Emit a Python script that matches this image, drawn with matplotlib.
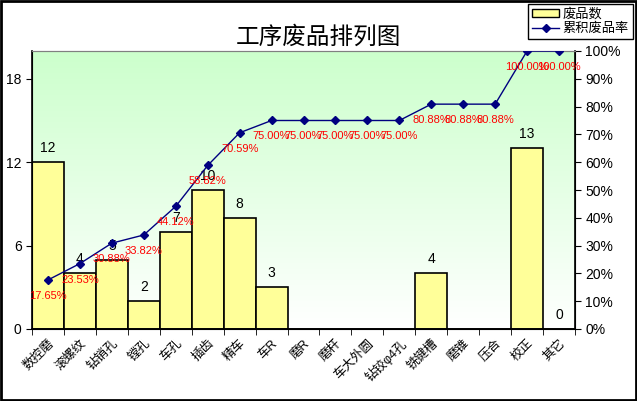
import numpy as np
import matplotlib
matplotlib.use("Agg")
import matplotlib.pyplot as plt
from matplotlib.patches import Rectangle, Patch
from matplotlib.lines import Line2D
from matplotlib.ticker import FixedLocator, PercentFormatter

plt.rcParams['font.family'] = ['Liberation Sans', 'Noto Sans CJK SC', 'DejaVu Sans']

categories = ["数控磨", "滚螺纹", "钻销孔", "镗孔", "车孔", "插齿", "精车", "车R", "磨R",
              "磨杆", "车大外圆", "钻铰φ4孔", "铣键槽", "磨锥", "压合", "校正", "其它"]
counts = [12, 4, 5, 2, 7, 10, 8, 3, 0, 0, 0, 0, 4, 0, 0, 13, 0]
title = "工序废品排列图"

counts = np.array(counts, dtype=float)
cum_rate = np.cumsum(counts) / counts.sum() * 100
x = np.arange(len(categories))

fig = plt.figure(figsize=(6.37, 4.01), dpi=100)
ax = fig.add_axes([32 / 637, 1 - 329 / 401, 543 / 637, 278 / 401])

# green to white background
grad = np.linspace(0, 1, 256).reshape(-1, 1)
top_col = np.array([0.80, 1.0, 0.80])
img = top_col[None, None, :] * (1 - grad[:, :, None]) + np.ones(3)[None, None, :] * grad[:, :, None]
img = img[::-1]
ax.imshow(img, extent=[-0.5, len(categories) - 0.5, 0, 20], aspect='auto', zorder=0, origin='lower')

ax.bar(x, counts, width=1.0, color="#ffff99", edgecolor="black", linewidth=1.2, zorder=2)
ax.set_xlim(-0.5, len(categories) - 0.5)
ax.set_ylim(0, 20)
ax.set_yticks([0, 6, 12, 18])
ax.tick_params(axis='y', labelsize=10, direction='out', length=4)

for i, c in enumerate(counts):
    if c > 0 or i == len(counts) - 1:
        ax.annotate(f"{int(c)}", (x[i], c), xytext=(0, 14), textcoords='offset pixels',
                    ha='center', va='center', fontsize=10, zorder=5)

ax.set_xticks(x)
ax.set_xticklabels(categories, rotation=45, ha='right', rotation_mode='anchor', fontsize=9)
ax.tick_params(axis='x', which='major', length=0, pad=6)
ax.xaxis.set_minor_locator(FixedLocator(np.arange(-0.5, len(categories), 1)))
ax.tick_params(axis='x', which='minor', length=4, direction='out')

ax.spines['top'].set_color('#808080')
for s in ['left', 'bottom', 'right']:
    ax.spines[s].set_linewidth(1.2)

ax2 = ax.twinx()
ax2.plot(x, cum_rate, color="#000080", marker='D', markersize=4, linewidth=1, zorder=4)
ax2.set_ylim(0, 100)
ax2.set_yticks(np.arange(0, 101, 10))
ax2.yaxis.set_major_formatter(PercentFormatter(decimals=0))
ax2.tick_params(axis='y', labelsize=10, direction='out', length=4)
ax2.spines['top'].set_color('#808080')
for i, r in enumerate(cum_rate):
    ax2.annotate(f"{r:.2f}%", (x[i], r), xytext=(0, -16), textcoords='offset pixels',
                 ha='center', va='center', fontsize=8, color='red', zorder=6)

fig.text(318 / 637, 1 - 37 / 401, title, ha='center', va='center', fontsize=17)

handles = [Patch(facecolor="#ffff99", edgecolor="black"),
           Line2D([], [], color="#000080", marker='D', markersize=4, linewidth=1)]
leg = fig.legend(handles, ["废品数", "累积废品率"], loc='upper right',
                 bbox_to_anchor=(633 / 637, 1 - 4 / 401), fontsize=9.5, frameon=True,
                 fancybox=False, framealpha=1, edgecolor='black', borderpad=0.3,
                 handlelength=2.0, handleheight=0.6, handletextpad=0.3, labelspacing=0.15,
                 borderaxespad=0)
leg.get_frame().set_linewidth(1)

fig.patches.append(Rectangle((0.001, 0.002), 0.997, 0.996, transform=fig.transFigure,
                             fill=False, edgecolor='black', linewidth=2))

fig.savefig("out.png", dpi=100)
